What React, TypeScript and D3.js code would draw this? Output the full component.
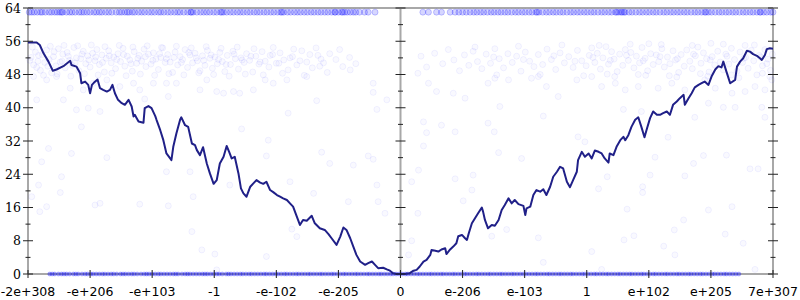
import React from 'react';
import * as d3 from 'd3';

const xTickPos = [-6, -5, -4, -3, -2, -1, 0, 1, 2, 3, 4, 5, 6];
const xTickLabels = ['-2e+308', '-e+206', '-e+103', '-1', '-e-102', '-e-205', '0', 'e-206', 'e-103', '1', 'e+102', 'e+205', '7e+307'];
const yTicks = [0, 8, 16, 24, 32, 40, 48, 56, 64];
const yMinorTicks = [4, 12, 20, 28, 36, 44, 52, 60];
const yAxisPos = [-6, 0, 6];

const leftLine: [number, number][] = [
  [-6.0, 55.7], [-5.86, 55.7], [-5.81, 55.1], [-5.75, 53.1], [-5.67, 51.1], [-5.6, 48.9], [-5.54, 49.2], [-5.43, 50.0],
  [-5.32, 51.3], [-5.3, 50.3], [-5.22, 49.9], [-5.16, 48.3], [-5.14, 45.9], [-5.08, 46.3], [-5.03, 45.5], [-5.0, 43.5],
  [-4.97, 45.5], [-4.94, 46.0], [-4.88, 46.8], [-4.84, 44.7], [-4.79, 44.3], [-4.73, 43.9], [-4.68, 44.3], [-4.64, 45.5],
  [-4.6, 43.5], [-4.55, 41.9], [-4.49, 41.1], [-4.44, 40.7], [-4.38, 41.9], [-4.33, 40.3], [-4.3, 37.9], [-4.28, 38.3],
  [-4.22, 36.7], [-4.14, 36.4], [-4.12, 39.9], [-4.06, 40.4], [-4.01, 39.9], [-3.95, 38.0], [-3.93, 37.1], [-3.87, 34.6],
  [-3.82, 32.2], [-3.77, 29.0], [-3.71, 27.8], [-3.69, 27.4], [-3.66, 30.6], [-3.61, 33.8], [-3.55, 37.1], [-3.53, 37.7],
  [-3.47, 35.8], [-3.42, 35.4], [-3.36, 31.4], [-3.31, 31.0], [-3.28, 29.8], [-3.23, 28.6], [-3.18, 30.5], [-3.12, 26.6],
  [-3.07, 24.2], [-3.01, 21.7], [-2.96, 22.6], [-2.91, 26.6], [-2.85, 28.2], [-2.8, 30.8], [-2.76, 29.4], [-2.72, 27.8],
  [-2.67, 28.2], [-2.61, 24.2], [-2.57, 20.6], [-2.53, 19.4], [-2.48, 18.6], [-2.42, 21.0], [-2.37, 21.8], [-2.32, 22.6],
  [-2.26, 22.0], [-2.21, 21.7], [-2.16, 22.2], [-2.1, 20.2], [-2.05, 19.7], [-1.99, 19.0], [-1.94, 18.6], [-1.89, 18.2],
  [-1.83, 17.8], [-1.78, 17.0], [-1.73, 16.2], [-1.67, 13.8], [-1.62, 11.8], [-1.57, 13.0], [-1.51, 12.8], [-1.43, 14.0],
  [-1.38, 12.2], [-1.3, 11.0], [-1.22, 10.6], [-1.16, 9.6], [-1.11, 8.6], [-1.03, 7.0], [-0.97, 9.0], [-0.92, 11.2],
  [-0.87, 10.6], [-0.81, 8.6], [-0.76, 6.6], [-0.71, 4.6], [-0.65, 3.0], [-0.57, 2.2], [-0.52, 2.6], [-0.46, 3.0],
  [-0.41, 2.2], [-0.36, 1.4], [-0.28, 1.5], [-0.22, 1.1], [-0.17, 0.8], [-0.12, 0.2], [-0.06, 0], [0, 0],
];

const rightLine: [number, number][] = [
  [0.07, 0], [0.15, 0.2], [0.21, 0.8], [0.26, 1.0], [0.31, 1.8], [0.37, 3.0], [0.42, 3.4], [0.48, 4.6], [0.5, 5.8],
  [0.56, 5.6], [0.61, 5.4], [0.66, 5.9], [0.72, 6.2], [0.74, 4.8], [0.8, 5.9], [0.85, 6.6], [0.9, 7.4], [0.93, 9.1],
  [0.99, 9.4], [1.04, 8.6], [1.07, 8.2], [1.1, 9.8], [1.15, 12.2], [1.2, 13.4], [1.25, 14.6], [1.31, 16.0], [1.33, 15.0],
  [1.36, 13.0], [1.41, 11.0], [1.47, 11.8], [1.52, 11.6], [1.58, 13.0], [1.63, 15.4], [1.68, 16.6], [1.74, 18.2],
  [1.79, 17.0], [1.84, 17.8], [1.9, 16.8], [1.98, 16.4], [2.01, 14.2], [2.03, 15.8], [2.09, 16.2], [2.14, 19.0],
  [2.19, 20.2], [2.25, 19.8], [2.3, 20.4], [2.35, 19.0], [2.41, 21.0], [2.46, 23.4], [2.52, 24.6], [2.57, 25.8],
  [2.62, 25.4], [2.68, 22.2], [2.73, 20.9], [2.78, 22.6], [2.84, 24.6], [2.86, 27.4], [2.92, 29.4], [2.97, 28.2],
  [3.03, 29.0], [3.08, 27.8], [3.13, 29.7], [3.19, 29.4], [3.24, 29.0], [3.29, 27.8], [3.35, 26.8], [3.37, 29.0],
  [3.43, 28.6], [3.48, 30.6], [3.54, 32.2], [3.59, 33.0], [3.62, 32.2], [3.67, 33.4], [3.72, 35.4], [3.78, 37.1],
  [3.83, 37.7], [3.88, 35.4], [3.93, 32.9], [3.97, 35.0], [4.02, 37.5], [4.07, 39.1], [4.13, 38.3], [4.18, 38.3],
  [4.23, 38.7], [4.29, 39.1], [4.34, 38.3], [4.39, 40.7], [4.45, 41.5], [4.5, 42.3], [4.56, 43.1], [4.58, 40.7],
  [4.64, 42.3], [4.69, 43.5], [4.74, 44.9], [4.8, 45.5], [4.85, 45.9], [4.9, 46.3], [4.96, 45.5], [5.01, 47.5],
  [5.07, 49.2], [5.12, 50.0], [5.17, 49.7], [5.2, 51.1], [5.25, 48.7], [5.31, 45.9], [5.39, 46.7], [5.42, 49.9],
  [5.47, 51.1], [5.52, 51.9], [5.58, 53.7], [5.63, 53.5], [5.68, 52.9], [5.74, 52.5], [5.79, 51.9], [5.82, 51.5],
  [5.87, 52.7], [5.9, 54.1], [5.95, 54.3], [6.0, 54.2],
];

const topBandValue = 63;
const topBandX = [
  -5.98, -5.94, -5.9, -5.85, -5.8, -5.77, -5.72, -5.66, -5.62, -5.57, -5.53, -5.49, -5.46, -5.44, -5.38, -5.33, -5.29,
  -5.24, -5.18, -5.14, -5.1, -5.05, -5.0, -4.94, -4.9, -4.85, -4.81, -4.75, -4.7, -4.65, -4.58, -4.53, -4.49, -4.44,
  -4.4, -4.37, -4.32, -4.28, -4.22, -4.17, -4.12, -4.06, -4.01, -3.96, -3.9, -3.86, -3.81, -3.75, -3.7, -3.64, -3.59,
  -3.55, -3.49, -3.43, -3.38, -3.37, -3.34, -3.28, -3.22, -3.17, -3.12, -3.07, -3.01, -2.96, -2.9, -2.88, -2.85, -2.8,
  -2.74, -2.69, -2.63, -2.58, -2.53, -2.47, -2.42, -2.36, -2.31, -2.26, -2.2, -2.15, -2.09, -2.04, -1.98, -1.93, -1.91,
  -1.88, -1.82, -1.77, -1.71, -1.66, -1.61, -1.55, -1.5, -1.44, -1.39, -1.33, -1.28, -1.22, -1.17, -1.11, -1.06, -1.05,
  -1.0, -0.95, -0.93, -0.9, -0.86, -0.81, -0.76, -0.72, -0.66, -0.58, -0.52, -0.41,
  0.36, 0.45, 0.58, 0.66, 0.8, 0.88, 0.94, 1.0, 1.06, 1.12, 1.18, 1.23, 1.29, 1.34, 1.4, 1.46, 1.51, 1.57, 1.62, 1.68,
  1.73, 1.79, 1.85, 1.9, 1.96, 2.01, 2.07, 2.12, 2.18, 2.2, 2.23, 2.29, 2.35, 2.4, 2.46, 2.51, 2.57, 2.62, 2.68, 2.74,
  2.79, 2.85, 2.9, 2.96, 3.01, 3.07, 3.12, 3.18, 3.24, 3.29, 3.35, 3.4, 3.46, 3.48, 3.51, 3.55, 3.57, 3.6, 3.62, 3.68,
  3.73, 3.79, 3.85, 3.9, 3.96, 4.01, 4.07, 4.12, 4.18, 4.24, 4.29, 4.35, 4.4, 4.46, 4.51, 4.57, 4.62, 4.68, 4.74, 4.79,
  4.85, 4.9, 4.92, 4.96, 5.01, 5.07, 5.13, 5.18, 5.24, 5.29, 5.35, 5.4, 5.46, 5.52, 5.57, 5.63, 5.68, 5.74, 5.79, 5.8,
  5.85, 5.9, 5.96, 6.0,
];

const bottomBandValue = 0;
const bottomBandX = [
  -5.65, -5.57, -5.46, -5.38, -5.27, -5.19, -5.08, -4.99, -4.9, -4.8, -4.71, -4.62, -4.51, -4.43, -4.33, -4.24, -4.13,
  -4.05, -3.95, -3.86, -3.76, -3.66, -3.58, -3.47, -3.39, -3.29, -3.19, -3.11, -3.01, -2.92, -2.81, -2.73, -2.63, -2.54,
  -2.44, -2.35, -2.25, -2.16, -2.06, -1.97, -1.87, -1.78, -1.68, -1.59, -1.49, -1.4, -1.3, -1.21, -1.11, -1.02, -0.92,
  -0.83, -0.73, -0.64, -0.54, -0.45, -0.35, -0.26, -0.16, -0.07, 0.03, 0.12, 0.22, 0.31, 0.41, 0.5, 0.6, 0.69, 0.79,
  0.88, 0.98, 1.07, 1.17, 1.26, 1.36, 1.45, 1.55, 1.64, 1.74, 1.83, 1.93, 2.02, 2.12, 2.21, 2.31, 2.4, 2.5, 2.59, 2.69,
  2.78, 2.88, 2.97, 3.07, 3.16, 3.26, 3.35, 3.45, 3.54, 3.64, 3.73, 3.83, 3.92, 4.02, 4.11, 4.21, 4.3, 4.4, 4.49, 4.59,
  4.68, 4.78, 4.87, 4.97, 5.06, 5.16, 5.25, 5.35, 5.45,
  -5.61, -5.51, -5.42, -5.33, -5.23, -5.13, -5.04, -4.95, -4.85, -4.76, -4.66, -4.57, -4.47, -4.38, -4.29, -4.18, -4.09,
  -4.0, -3.9, -3.81, -3.71, -3.62, -3.52, -3.43, -3.34, -3.24, -3.15, -3.06, -2.96, -2.87, -2.77, -2.68, -2.58, -2.49,
  -2.4, -2.3, -2.2, -2.11, -2.01, -1.92, -1.83, -1.73, -1.64, -1.54, -1.45, -1.35, -1.26, -1.16, -1.07, -0.97, -0.88,
  -0.78, -0.69, -0.59, -0.5, -0.4, -0.31, -0.21, -0.12, -0.02, 0.08, 0.17, 0.27, 0.36, 0.46, 0.55, 0.65, 0.74, 0.84,
  0.93, 1.03, 1.12, 1.22, 1.31, 1.41, 1.5, 1.6, 1.69, 1.79, 1.88, 1.98, 2.07, 2.17, 2.26, 2.36, 2.45, 2.55, 2.64, 2.74,
  2.83, 2.93, 3.02, 3.12, 3.21, 3.31, 3.4, 3.5, 3.59, 3.69, 3.78, 3.88, 3.97, 4.07, 4.16, 4.26, 4.35, 4.45, 4.54, 4.64,
  4.73, 4.83, 4.92, 5.02, 5.11, 5.21, 5.3, 5.4,
];

const cloudPoints: [number, number][] = [
  [-5.95, 52.1], [-5.91, 50.3], [-5.88, 53.4], [-5.84, 51.2], [-5.8, 49.0], [-5.77, 52.8], [-5.73, 50.9], [-5.7, 53.9],
  [-5.66, 51.6], [-5.62, 48.4], [-5.59, 52.3], [-5.55, 50.1], [-5.51, 54.2], [-5.48, 51.0], [-5.44, 52.9], [-5.4, 49.6],
  [-5.37, 53.3], [-5.33, 51.4], [-5.29, 50.2], [-5.26, 54.5], [-5.22, 52.0], [-5.18, 48.9], [-5.15, 51.8], [-5.11, 53.6],
  [-5.07, 50.6], [-5.04, 52.5], [-5.0, 49.8], [-4.96, 53.1], [-4.92, 51.3], [-4.89, 54.0], [-4.85, 50.4], [-4.81, 52.7],
  [-4.77, 48.6], [-4.74, 51.9], [-4.7, 53.7], [-4.66, 50.8], [-4.62, 52.2], [-4.59, 49.4], [-4.55, 53.0], [-4.51, 51.1],
  [-4.47, 54.3], [-4.44, 50.0], [-4.4, 52.4], [-4.36, 51.5], [-4.32, 48.8], [-4.29, 53.5], [-4.25, 50.7], [-4.21, 52.6],
  [-4.17, 51.2], [-4.13, 54.1], [-4.1, 49.9], [-4.06, 52.9], [-4.02, 50.5], [-3.98, 53.2], [-3.94, 51.7], [-3.9, 49.2],
  [-3.86, 52.1], [-3.83, 54.4], [-3.79, 50.9], [-3.75, 52.8], [-3.71, 51.0], [-3.67, 48.5], [-3.63, 53.4], [-3.59, 50.3],
  [-3.55, 52.3], [-3.51, 51.6], [-3.47, 54.0], [-3.43, 49.7], [-3.39, 52.7], [-3.35, 50.8], [-3.31, 53.1], [-3.27, 51.3],
  [-3.23, 48.9], [-3.19, 52.5], [-3.15, 50.2], [-3.11, 53.8], [-3.07, 51.9], [-3.03, 49.5], [-2.99, 52.2], [-2.95, 50.6],
  [-2.91, 53.3], [-2.87, 51.1], [-2.83, 48.7], [-2.79, 52.6], [-2.74, 50.4], [-2.7, 53.6], [-2.66, 51.8], [-2.61, 49.3],
  [-2.57, 52.0], [-2.52, 50.9], [-2.48, 53.0], [-2.43, 51.4], [-2.38, 48.6], [-2.33, 52.4], [-2.28, 50.5], [-2.23, 53.5],
  [-2.18, 51.2], [-2.12, 49.8], [-2.06, 52.8], [-2.0, 50.7], [-1.94, 53.2], [-1.88, 51.5], [-1.81, 49.1], [-1.74, 52.3],
  [-1.67, 50.3], [-1.59, 53.7], [-1.51, 51.0], [-1.42, 49.6], [-1.33, 52.6], [-1.24, 50.8], [-1.14, 53.0], [-1.04, 51.6],
  [-0.93, 49.9], [-0.82, 52.1], [-0.72, 50.6],
  [-5.93, 54.6], [-5.86, 49.7], [-5.75, 47.8], [-5.64, 54.8], [-5.53, 48.1], [-5.42, 55.0], [-5.31, 47.6], [-5.2, 54.9],
  [-5.09, 48.2], [-4.98, 55.1], [-4.87, 47.9], [-4.76, 54.7], [-4.65, 48.3], [-4.53, 55.0], [-4.42, 47.7], [-4.31, 54.6],
  [-4.19, 48.1], [-4.08, 54.9], [-3.96, 47.8], [-3.85, 54.5], [-3.73, 48.2], [-3.61, 54.8], [-3.49, 47.9], [-3.37, 54.4],
  [-3.25, 48.4], [-3.13, 54.7], [-3.01, 48.0], [-2.89, 54.3], [-2.76, 47.6], [-2.63, 54.6], [-2.5, 48.1], [-2.36, 54.2],
  [-2.21, 47.9], [-2.05, 54.5], [-1.9, 48.3], [-1.72, 54.1], [-1.55, 47.8], [-1.36, 54.4], [-1.18, 48.5], [-0.98, 54.0],
  [-5.97, 51.4], [-5.83, 52.6], [-5.68, 50.0], [-5.58, 53.5], [-5.45, 51.2], [-5.35, 52.4], [-5.24, 50.8], [-5.13, 52.9],
  [-5.02, 51.5], [-4.91, 52.2], [-4.8, 50.9], [-4.69, 52.5], [-4.57, 51.6], [-4.46, 52.8], [-4.34, 50.6], [-4.23, 51.9],
  [-4.11, 52.3], [-3.99, 51.4], [-3.88, 53.0], [-3.77, 51.8], [-3.65, 52.1], [-3.53, 50.9], [-3.41, 53.3], [-3.29, 52.0],
  [-3.17, 51.4], [-3.05, 52.7], [-2.93, 51.6], [-2.81, 50.4], [-2.68, 52.9], [-2.55, 51.5], [-2.41, 52.4], [-2.26, 51.0],
  [-2.1, 52.6], [-1.96, 50.7], [-1.78, 52.0], [-1.62, 51.3], [-1.46, 52.8], [-1.28, 51.7],
  [-5.91, 47.5], [-5.7, 46.7], [-5.54, 47.5], [-5.32, 44.7], [-5.11, 44.3], [-4.95, 45.9], [-4.73, 46.7], [-4.52, 45.1],
  [-4.3, 45.9], [-4.2, 44.3], [-3.98, 45.9], [-3.77, 45.9], [-3.61, 45.9], [-3.23, 44.3], [-3.12, 46.7], [-2.96, 43.9],
  [-2.85, 43.5], [-2.69, 43.9], [-2.59, 43.5], [-2.37, 44.3], [-2.18, 46.7], [-2.05, 45.9], [-1.83, 46.7], [-1.51, 47.5],
  [-1.3, 50.0], [-0.81, 49.1], [-0.44, 45.9],
  [0.33, 52.4], [0.42, 49.8], [0.55, 53.1], [0.68, 50.6], [0.77, 54.0], [0.86, 51.5], [0.95, 48.9],
  [1.03, 52.7], [1.1, 50.2], [1.17, 53.6], [1.24, 51.1], [1.31, 49.4], [1.38, 52.9], [1.45, 50.7], [1.52, 54.2],
  [1.59, 51.8], [1.66, 49.6], [1.73, 53.0], [1.8, 50.9], [1.87, 52.4], [1.94, 48.8], [2.01, 53.4], [2.08, 51.2],
  [2.15, 49.9], [2.22, 52.8], [2.29, 50.4], [2.36, 54.1], [2.43, 51.6], [2.5, 49.2], [2.57, 53.2], [2.64, 50.8],
  [2.71, 52.3], [2.78, 49.7], [2.85, 53.8], [2.92, 51.3], [2.99, 50.1],
  [3.04, 52.6], [3.08, 54.4], [3.13, 50.9], [3.17, 53.1], [3.22, 49.3], [3.26, 52.0], [3.31, 54.7], [3.35, 50.5],
  [3.4, 53.5], [3.44, 51.7], [3.49, 48.7], [3.53, 52.9], [3.58, 50.2], [3.62, 54.0], [3.67, 51.4], [3.71, 53.3],
  [3.76, 49.6], [3.8, 52.4], [3.85, 50.8], [3.89, 54.5], [3.94, 51.9], [3.98, 48.9], [4.03, 53.0], [4.07, 50.4],
  [4.12, 52.7], [4.16, 51.1], [4.21, 54.2], [4.25, 49.8], [4.3, 52.2], [4.34, 50.6], [4.39, 53.7], [4.43, 51.5],
  [4.48, 48.5], [4.52, 52.8], [4.57, 50.0], [4.61, 53.9], [4.66, 51.2], [4.7, 49.4], [4.75, 52.5], [4.79, 54.6],
  [4.84, 50.7], [4.88, 53.2], [4.93, 51.8], [4.97, 48.6], [5.02, 52.3], [5.06, 50.3], [5.11, 53.6], [5.15, 51.0],
  [5.2, 49.1], [5.24, 52.9], [5.29, 50.5], [5.33, 54.3], [5.38, 51.6], [5.42, 48.8], [5.47, 53.4], [5.51, 50.9],
  [5.56, 52.1], [5.6, 49.5], [5.65, 53.8], [5.69, 51.3], [5.74, 47.9], [5.78, 52.6], [5.83, 50.1], [5.87, 54.0],
  [5.92, 51.7], [5.96, 49.0], [5.99, 52.9],
  [1.2, 54.6], [1.55, 47.9], [1.9, 54.8], [2.25, 48.0], [2.6, 55.1], [2.95, 47.7], [3.2, 55.0], [3.45, 47.5],
  [3.7, 55.3], [3.95, 47.8], [4.2, 55.2], [4.45, 47.4], [4.7, 55.0], [4.95, 47.6], [5.2, 55.3], [5.45, 47.2],
  [5.7, 55.1], [5.95, 47.5], [3.33, 48.1], [3.83, 48.0], [4.33, 47.7], [4.83, 48.2], [5.33, 47.9], [5.83, 48.3],
  [4.0, 55.4], [5.0, 55.5], [5.55, 55.0],
  [1.5, 52.2], [1.98, 51.6], [2.47, 52.5], [2.81, 51.2], [3.1, 52.1], [3.38, 51.4], [3.64, 52.6], [3.91, 51.3],
  [4.18, 52.3], [4.46, 51.8], [4.72, 52.9], [4.99, 51.5], [5.26, 52.4], [5.53, 51.9], [5.8, 52.2], [5.9, 50.6],
  [0.28, 48.3], [0.45, 45.9], [0.58, 43.9], [0.85, 43.5], [1.04, 42.3], [1.41, 45.9], [1.52, 47.1], [1.74, 46.7],
  [2.11, 47.1], [2.22, 47.5], [2.35, 45.1], [2.54, 42.7], [2.84, 46.7], [3.08, 47.5], [3.24, 45.1], [3.46, 45.9],
  [3.62, 44.3], [3.83, 45.1], [4.15, 44.7], [4.37, 45.9], [4.58, 44.3], [4.9, 46.7], [5.07, 44.7], [5.34, 43.5],
  [5.55, 43.9], [5.71, 45.1], [5.87, 44.3], [5.98, 46.7],
];

const sparsePoints: [number, number][] = [
  [-5.67, 30.2], [-5.3, 29.0], [-5.78, 27.0], [-5.46, 23.4], [-5.83, 21.4], [-5.48, 19.6], [-5.81, 15.0], [-5.7, 16.2],
  [-4.92, 16.6], [-4.84, 17.0], [-4.73, 28.0], [-4.2, 16.8], [-3.74, 16.4], [-3.34, 18.6], [-3.77, 24.6], [-3.39, 24.6],
  [-2.75, 21.4], [-3.36, 10.2], [-3.2, 5.8], [-2.99, 4.8], [-2.96, 1.0], [-2.16, 4.2], [-1.67, 9.0], [-1.75, 10.8],
  [-1.27, 29.3], [-1.14, 26.6], [-0.76, 26.2], [-0.52, 28.4], [-0.44, 27.6], [-0.38, 21.4], [-0.36, 17.4], [-0.84, 17.4],
  [-0.25, 14.6], [-0.44, 43.7], [-0.38, 39.6], [-0.22, 41.9], [-1.35, 41.7], [-1.81, 38.7], [-2.56, 34.9], [-2.13, 32.2],
  [-2.16, 28.4], [-1.4, 19.4], [-1.78, 22.2], [-5.14, 35.4], [-4.84, 39.1], [-5.22, 39.5], [-5.03, 39.9], [-4.12, 42.1],
  [-3.74, 42.7], [-5.43, 41.9], [-5.86, 41.9], [-5.94, 18.6],
  [0.37, 36.6], [0.42, 34.0], [0.37, 30.8], [0.29, 25.0], [0.18, 22.2], [0.28, 14.6], [0.18, 8.0], [0.13, 4.6],
  [0.88, 22.9], [1.17, 23.8], [1.01, 17.6], [0.66, 35.8], [0.88, 34.2], [1.41, 36.3], [1.51, 34.2], [1.6, 40.3],
  [1.95, 27.8], [1.58, 29.2], [1.47, 9.1], [1.71, 10.7], [2.22, 8.7], [2.3, 2.8], [3.08, 5.4], [3.24, 1.1],
  [3.19, 20.5], [3.33, 23.4], [3.65, 15.6], [3.6, 8.2], [3.76, 9.2], [3.9, 21.0], [3.9, 19.6], [4.02, 23.8],
  [4.1, 28.1], [4.31, 32.9], [4.58, 23.6], [4.56, 13.0], [4.41, 10.6], [4.24, 6.7], [4.42, 4.6], [4.96, 15.4],
  [4.72, 26.6], [4.88, 28.5], [5.25, 28.6], [5.63, 25.3], [5.76, 25.3], [5.23, 9.6], [5.52, 7.4], [5.71, 1.1],
  [5.87, 37.7], [5.82, 40.1], [5.39, 40.1], [5.2, 40.1], [4.96, 41.1], [4.74, 37.7], [3.88, 39.1], [3.59, 39.6],
  [2.86, 33.0], [2.97, 31.8], [2.3, 38.0], [1.15, 20.2], [5.34, 16.2],
];

export default function App() {
  const width = 800;
  const height = 300;
  const x = d3.scaleLinear().domain([-6, 6]).range([28, 773]);
  const y = d3.scaleLinear().domain([0, 64]).range([274, 8]);
  const line = d3.line<[number, number]>().x((d) => x(d[0])).y((d) => y(d[1]));
  const allLine = leftLine.concat(rightLine);

  const axisGrey = '#a8a8a8';
  const tickColor = '#222';

  return (
    <svg width={width} height={height} style={{ position: 'absolute', left: 0, top: 0, background: '#fff' }}>
      <line x1={x(-6)} x2={x(6)} y1={y(64)} y2={y(64)} stroke={axisGrey} strokeWidth={2} />
      <line x1={x(-6)} x2={x(6)} y1={y(0)} y2={y(0)} stroke={axisGrey} strokeWidth={2} />
      {yAxisPos.map((p) => (
        <line key={'ya' + p} x1={x(p)} x2={x(p)} y1={y(0)} y2={y(64)} stroke={axisGrey} strokeWidth={2} />
      ))}

      <g fill="rgba(0,0,255,0.025)" stroke="rgba(0,0,255,0.055)" strokeWidth={1}>
        {cloudPoints.map((d, i) => (
          <circle key={'c' + i} cx={x(d[0])} cy={y(d[1])} r={3} />
        ))}
        {sparsePoints.map((d, i) => (
          <circle key={'s' + i} cx={x(d[0])} cy={y(d[1])} r={3} />
        ))}
      </g>
      <g fill="rgba(0,0,255,0.16)" stroke="rgba(0,0,255,0.2)" strokeWidth={1}>
        {topBandX.map((v, i) => (
          <circle key={'t' + i} cx={x(v)} cy={y(topBandValue)} r={3} />
        ))}
      </g>
      <g fill="rgba(0,0,255,0.3)" stroke="rgba(0,0,255,0.25)" strokeWidth={0.8}>
        {bottomBandX.map((v, i) => (
          <circle key={'b' + i} cx={x(v)} cy={y(bottomBandValue)} r={2} />
        ))}
      </g>

      <path d={line(allLine) || ''} fill="none" stroke="#202088" strokeWidth={2} strokeLinejoin="round" />

      {yAxisPos.map((p) => (
        <g key={'yt' + p} stroke={tickColor} strokeWidth={1}>
          {yTicks.map((t) => (
            <line key={t} x1={x(p) - 5} x2={x(p) + 5} y1={y(t)} y2={y(t)} />
          ))}
          {yMinorTicks.map((t) => (
            <line key={'m' + t} x1={x(p) - 2.5} x2={x(p) + 2.5} y1={y(t)} y2={y(t)} />
          ))}
        </g>
      ))}
      <g stroke={tickColor} strokeWidth={1}>
        {xTickPos.map((t) => (
          <line key={'xt' + t} x1={x(t)} x2={x(t)} y1={y(0) - 4} y2={y(0) + 4} />
        ))}
      </g>

      <g fontFamily="'DejaVu Serif', serif" fontSize={12.5} fill="#000" textAnchor="end">
        {yTicks.map((t) => (
          <text key={'yl' + t} x={x(-6) - 7} y={y(t)} dy="0.36em">
            {t}
          </text>
        ))}
      </g>
      <g fontFamily="'DejaVu Sans', sans-serif" fontSize={12.5} fill="#000" textAnchor="middle">
        {xTickPos.map((t, i) => (
          <text key={'xl' + t} x={x(t)} y={295.5}>
            {xTickLabels[i]}
          </text>
        ))}
      </g>
    </svg>
  );
}
